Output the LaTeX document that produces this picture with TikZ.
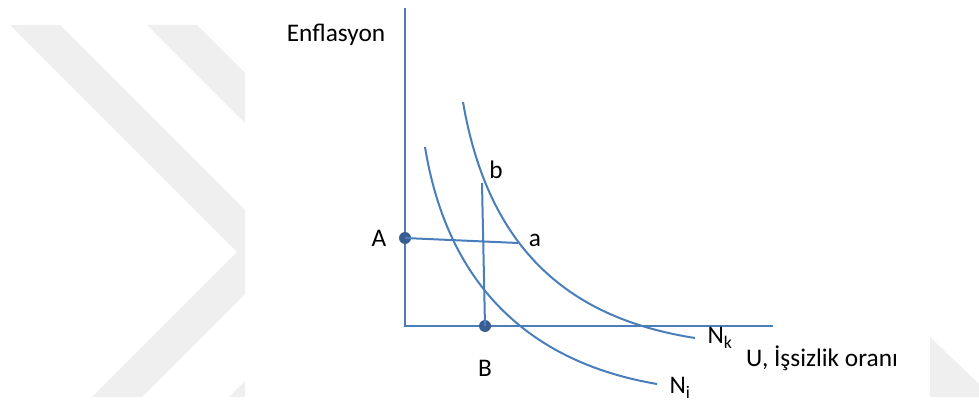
\documentclass[tikz,border=0pt]{standalone}
\usepackage{fontspec}
\setmainfont{Carlito}
\definecolor{curveblue}{RGB}{74,126,187}
\definecolor{dotblue}{RGB}{56,93,145}
\definecolor{wmgray}{RGB}{239,239,239}
\tikzset{
  curve/.style={draw=curveblue, line width=1.5pt},
  dot/.style={circle, fill=dotblue, inner sep=0pt, minimum size=9pt},
  lbl/.style={font=\fontsize{19}{22}\selectfont, inner sep=1pt}
}
\begin{document}
\begin{tikzpicture}[x=0.75pt, y=-0.75pt]
    \useasboundingbox (0,0) rectangle (979,406);

    % Watermark chevrons
    \begin{scope}
        \clip (0,0) rectangle (245,406);
        \fill[wmgray] (10,25) -- (60,25) -- (287,252) -- (142,397) -- (92,397) -- (237,252) -- cycle;
        \fill[wmgray] (147,25) -- (197,25) -- (424,252) -- (279,397) -- (229,397) -- (374,252) -- cycle;
    \end{scope}
    \fill[wmgray] (930,337) -- (979,384) -- (979,397) -- (930,397) -- cycle;

    % Axes
    \coordinate (ytop) at (405,8);
    \coordinate (O) at (405,326);
    \coordinate (xend) at (773,326);
    \draw[curve] (ytop) -- (O) -- (xend);

    % Points
    \coordinate (b) at (482,183);
    \coordinate (a) at (518,243);
    \node[dot] (A) at (405,238) {};
    \node[dot] (B) at (485,326) {};

    % Curves N_k and N_i
    \draw[curve] (463,102) .. controls (490,260) and (580,320) .. (695,338);
    \draw[curve] (425,147) .. controls (450,300) and (545,365) .. (657,384);

    \draw[curve] (A.center) -- (a);
    \draw[curve] (b) -- (B.center);

    % Labels
    \node[lbl] (ylab) at (336,35) {Enflasyon};
    \node[lbl] (xlab) at (822,358) {U, İşsizlik oranı};
    \node[lbl] (Alab) at (379,238) {A};
    \node[lbl] (alab) at (535,240) {a};
    \node[lbl] (blab) at (496,170) {b};
    \node[lbl] (Blab) at (485,368) {B};
    \node[lbl, anchor=west] (Nk) at (706,338) {N\textsubscript{k}};
    \node[lbl, anchor=west] (Ni) at (668,388) {N\textsubscript{i}};
\end{tikzpicture}
\end{document}
